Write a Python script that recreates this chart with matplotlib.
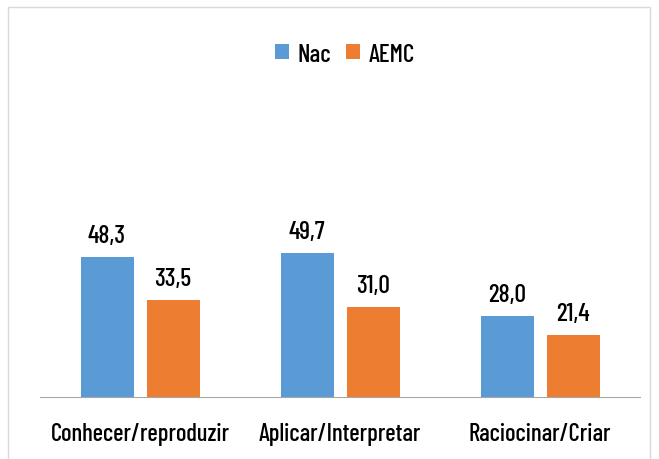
import matplotlib
matplotlib.use("Agg")
import matplotlib.pyplot as plt
import numpy as np
from matplotlib.patches import Rectangle

plt.rcParams['font.family'] = ['Barlow Condensed', 'DejaVu Sans']
plt.rcParams['font.stretch'] = 'condensed'
plt.rcParams['font.weight'] = 'medium'

categories = ["Conhecer/reproduzir", "Aplicar/Interpretar", "Raciocinar/Criar"]
nac = [48.3, 49.7, 28.0]
aemc = [33.5, 31.0, 21.4]
series_names = ["Nac", "AEMC"]
colors = ["#5B9BD5", "#ED7D31"]

W, H = 659, 460
fig = plt.figure(figsize=(W/100, H/100), dpi=100)
ymax = 100
ax = fig.add_axes([40/W, 62/H, 600/W, (2.9*ymax)/H])

x = np.arange(len(categories))
bw = 0.265
off = 0.165
b1 = ax.bar(x - off, nac, bw, color=colors[0], label=series_names[0])
b2 = ax.bar(x + off, aemc, bw, color=colors[1], label=series_names[1])

for bars, vals in [(b1, nac), (b2, aemc)]:
    for b, v in zip(bars, vals):
        ax.annotate(f"{v:.1f}".replace(".", ","), (b.get_x() + b.get_width()/2, v),
                    xytext=(0, 7), textcoords="offset points", ha="center", va="bottom",
                    fontsize=18.5, fontweight='medium')

ax.set_xlim(-0.5, 2.5)
ax.set_ylim(0, ymax)
for s in ["top", "right", "left"]:
    ax.spines[s].set_visible(False)
ax.spines["bottom"].set_color("#A6A6A6")
ax.set_yticks([])
ax.set_xticks(x)
ax.set_xticklabels(categories, fontsize=17.8, fontweight='medium')
ax.tick_params(axis="x", length=0, pad=18)

fig.legend(handles=[b1, b2], labels=series_names, loc="center",
           bbox_to_anchor=(345/W, 1 - 55/H), ncol=2, frameon=False,
           prop={'size': 18, 'weight': 'medium'}, handlelength=0.55, handleheight=0.55,
           columnspacing=0.6, handletextpad=0.35)

fig.patches.append(Rectangle((8/W, -0.05), (650-8)/W, 1 - 8/H + 0.05,
                             transform=fig.transFigure, fill=False,
                             edgecolor="#D9D9D9", linewidth=1.0))

fig.savefig("out.png", dpi=100)
